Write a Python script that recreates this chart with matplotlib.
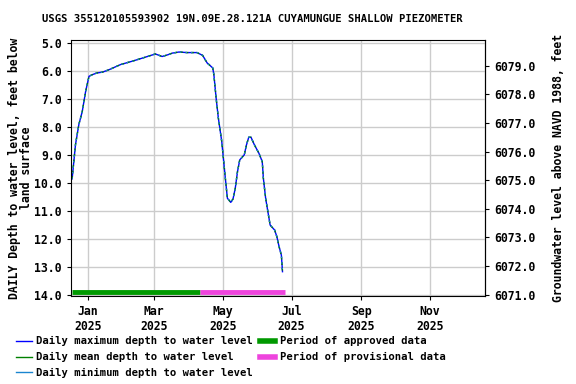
import numpy as np
import pandas as pd
import matplotlib
matplotlib.use('Agg')
import matplotlib.pyplot as plt
import matplotlib.dates as mdates
from matplotlib.lines import Line2D

# days offset from 2025-01-01, depth below land surface (ft)
day_offset = [-14, -11, -8, -5, -2, 1, 4, 8, 13, 19, 29, 41, 53, 60, 66, 71, 75, 81,
              88, 97, 102, 106, 111, 112, 114, 116, 119, 122, 124, 127, 129, 131,
              133, 135, 139, 141, 143, 145, 148, 152, 155, 156, 158, 160, 162, 166,
              168, 170, 172, 173]
depth = [9.85, 8.62, 7.90, 7.44, 6.72, 6.18, 6.12, 6.06, 6.03, 5.94, 5.76, 5.62,
         5.47, 5.38, 5.47, 5.41, 5.35, 5.31, 5.33, 5.33, 5.43, 5.70, 5.88, 6.12,
         6.96, 7.68, 8.51, 9.75, 10.54, 10.69, 10.57, 10.19, 9.59, 9.17, 8.99,
         8.63, 8.36, 8.36, 8.63, 8.93, 9.23, 9.83, 10.54, 11.02, 11.50, 11.68,
         11.92, 12.28, 12.58, 13.17]

approved = ('2024-12-18', '2025-04-11')
provisional = ('2025-04-11', '2025-06-25')

dates = pd.Timestamp('2025-01-01') + pd.to_timedelta(day_offset, unit='D')

plt.rcParams['font.family'] = 'DejaVu Sans Mono'
plt.rcParams['font.weight'] = 'bold'

fig = plt.figure(figsize=(5.76, 3.84), dpi=100)
ax = fig.add_axes([71 / 576, 1 - 296 / 384, 414 / 576, 256 / 384])

ax.plot(dates, depth, color='#0000ff', lw=1.0)
ax.plot(dates, depth, color='#008000', lw=1.0, dashes=(2, 2))
ax.plot(dates, depth, color='#1a85d0', lw=1.0, dashes=(1, 3))

bar_y = 13.9
ax.plot(pd.to_datetime(approved), [bar_y, bar_y], color='#009900', lw=3.5, solid_capstyle='butt')
ax.plot(pd.to_datetime(provisional), [bar_y, bar_y], color='#ee44dd', lw=3.5, solid_capstyle='butt')

ax.set_xlim(pd.Timestamp('2024-12-17'), pd.Timestamp('2025-12-20'))
ax.set_ylim(14.04, 4.88)
ax.set_yticks(np.arange(5, 14.1, 1.0))
ax.yaxis.set_major_formatter(matplotlib.ticker.FormatStrFormatter('%.1f'))
ax.xaxis.set_major_locator(mdates.MonthLocator(bymonth=[1, 3, 5, 7, 9, 11]))
ax.xaxis.set_major_formatter(mdates.DateFormatter('%b\n%Y'))
ax.grid(True, color='#cccccc', lw=1.0)
ax.set_axisbelow(True)
ax.tick_params(labelsize=8.3, length=3, direction='out')
for lab in ax.get_xticklabels() + ax.get_yticklabels():
    lab.set_fontweight('bold')

ax.set_ylabel('DAILY Depth to water level, feet below\nland surface', fontsize=8.3,
              fontweight='bold', labelpad=1, linespacing=0.95)

sec = ax.secondary_yaxis('right', functions=(lambda d: 6079.78 - 0.976 * (d - 5),
                                             lambda e: 5 + (6079.78 - e) / 0.976))
sec.set_yticks(np.arange(6071, 6079.1, 1.0))
sec.yaxis.set_major_formatter(matplotlib.ticker.FormatStrFormatter('%.1f'))
sec.tick_params(labelsize=8.3, length=3)
for lab in sec.get_yticklabels():
    lab.set_fontweight('bold')
sec.set_ylabel('Groundwater level above NAVD 1988, feet', fontsize=8.3,
               fontweight='bold', labelpad=12)

fig.text(252 / 576, 1 - 19 / 384, 'USGS 355120105593902 19N.09E.28.121A CUYAMUNGUE SHALLOW PIEZOMETER',
         ha='center', va='center', fontsize=7.55, fontweight='bold')

handles = [Line2D([], [], color='#0000ff', lw=1),
           Line2D([], [], color='#008000', lw=1),
           Line2D([], [], color='#1a85d0', lw=1),
           Line2D([], [], color='#009900', lw=4),
           Line2D([], [], color='#ee44dd', lw=4)]
labels = ['Daily maximum depth to water level',
          'Daily mean depth to water level',
          'Daily minimum depth to water level',
          'Period of approved data',
          'Period of provisional data']
fig.legend(handles, labels, loc='upper left', bbox_to_anchor=(9 / 576, 1 - 329 / 384),
           ncol=2, frameon=False, handlelength=1.5, handletextpad=0.4,
           columnspacing=0.6, labelspacing=0.55, borderpad=0.2,
           prop={'family': 'DejaVu Sans Mono', 'weight': 'bold', 'size': 7.6})

fig.savefig('out.png', dpi=100)
